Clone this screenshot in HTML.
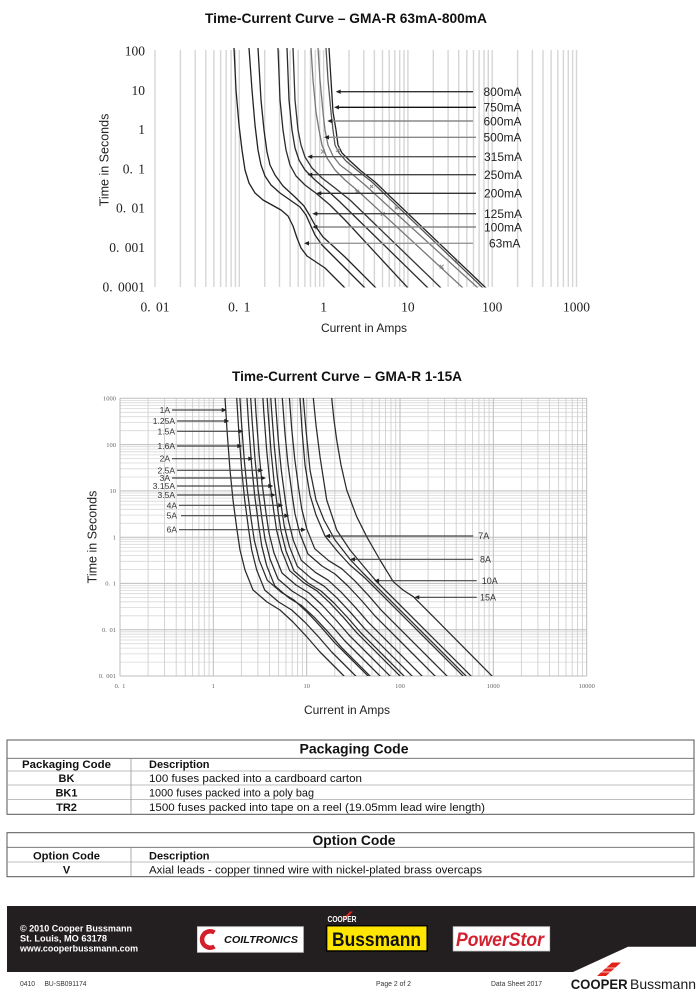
<!DOCTYPE html>
<html><head><meta charset="utf-8"><style>
html,body{margin:0;padding:0;background:#fff;width:700px;height:999px;overflow:hidden}
svg{display:block}
</style></head><body>
<svg width="700" height="999" viewBox="0 0 700 999" xmlns="http://www.w3.org/2000/svg" font-family="'Liberation Sans', Arial, sans-serif">
<defs>
<clipPath id="c1"><rect x="155" y="48" width="422" height="239.5"/></clipPath>
<clipPath id="c2"><rect x="120" y="398" width="467" height="278"/></clipPath>
</defs>

<!-- ============ TOP CHART ============ -->
<text x="346" y="23" text-anchor="middle" font-size="14" font-weight="bold" fill="#111" textLength="282" lengthAdjust="spacingAndGlyphs">Time-Current Curve – GMA-R 63mA-800mA</text>

<path stroke="#d6d6d6" stroke-width="1.4" fill="none" d="M155 50V287M180.4 50V287M195.2 50V287M205.8 50V287M213.9 50V287M220.6 50V287M226.2 50V287M231.1 50V287M235.4 50V287M239.3 50V287M264.7 50V287M279.5 50V287M290.1 50V287M298.2 50V287M304.9 50V287M310.5 50V287M315.4 50V287M319.7 50V287M323.6 50V287M349 50V287M363.8 50V287M374.4 50V287M382.5 50V287M389.2 50V287M394.8 50V287M399.7 50V287M404 50V287M407.9 50V287M433.3 50V287M448.1 50V287M458.7 50V287M466.8 50V287M473.5 50V287M479.1 50V287M484 50V287M488.3 50V287M492.2 50V287M517.6 50V287M532.4 50V287M543 50V287M551.1 50V287M557.8 50V287M563.4 50V287M568.3 50V287M572.6 50V287M576.5 50V287"/>

<g font-family="'Liberation Serif', 'Noto Serif CJK SC', serif" font-size="13.5" fill="#222" text-anchor="end" word-spacing="2">
<text x="145" y="55.5">100</text>
<text x="145" y="94.8">10</text>
<text x="145" y="134.1">1</text>
<text x="145" y="173.4">0. 1</text>
<text x="145" y="212.7">0. 01</text>
<text x="145" y="252">0. 001</text>
<text x="145" y="291.3">0. 0001</text>
</g>
<g font-family="'Liberation Serif', 'Noto Serif CJK SC', serif" font-size="13.5" fill="#222" text-anchor="middle" word-spacing="2">
<text x="155" y="311.5">0. 01</text>
<text x="239.3" y="311.5">0. 1</text>
<text x="323.6" y="311.5">1</text>
<text x="407.9" y="311.5">10</text>
<text x="492.2" y="311.5">100</text>
<text x="576.5" y="311.5">1000</text>
</g>
<text transform="translate(108.5,160) rotate(-90)" text-anchor="middle" font-size="12.5" fill="#222">Time in Seconds</text>
<text x="364" y="332" text-anchor="middle" font-size="12" fill="#222">Current in Amps</text>

<g clip-path="url(#c1)" fill="none" stroke-width="1.3" stroke-linejoin="round">
<polyline stroke="#222" points="234,48 236,90 239,125 242,150 245,170 249,183 255,193 263,200 272,205 281,210 288,216 293,226 297,238 301,248 307,256 316,262 325,268 345,288"/>
<polyline stroke="#222" points="249,48 252,90 255,125 258,150 261,165 265,176 271,185 280,193 290,200 300,207 306,215 310,224 315,235 322,245 331,254 343,266 365,288"/>
<polyline stroke="#222" points="258,48 261,100 264,130 267,152 270,165 275,175 283,186 295,197 304,206 310,216 316,227 323,237 333,246 345,257 376,288"/>
<polyline stroke="#2a2a2a" points="278,48 280,100 283,130 286,150 290,165 296,176 305,185 317,194 330,205 345,220 408,288"/>
<polyline stroke="#2a2a2a" points="287,48 289,100 292,130 295,148 299,160 305,170 315,180 328,191 340,202 428,288"/>
<polyline stroke="#333" points="293,48 295,100 298,130 301,145 305,157 312,168 322,178 335,188 350,200 441,288"/>
<polyline stroke="#777" points="311,48 313,80 316,112 319,130 322,145 327,158 335,170 345,180 358,191 463,288"/>
<polyline stroke="#777" points="318,48 320,80 323,112 325,130 328,145 333,156 340,165 352,174 365,185 478,288"/>
<polyline stroke="#555" points="326,48 328,80 331,112 333,130 335,145 339,153 346,161 358,171 372,182 483,288"/>
<polyline stroke="#222" points="329,48 331,80 333,112 336,130 338,145 342,153 349,160 361,171 375,182 486,288"/>
</g>
<g stroke="#888" stroke-width="1" fill="none">
<path d="M321 149.5l4 4M325 149.5l-4 4M336 148l4 4M340 148l-4 4M355 189.7l4 4M359 189.7l-4 4M380.7 212l4 4M384.7 212l-4 4M439.7 264.7l4 4M443.7 264.7l-4 4M370 185l3 3M373 185l-3 3M395 206.5l3 3M398 206.5l-3 3M455 260l3 3M458 260l-3 3"/>
</g>

<!-- arrows top -->
<g stroke-width="1.4">
<line x1="339" y1="91.7" x2="473" y2="91.7" stroke="#333"/>
<line x1="337" y1="107.3" x2="476" y2="107.3" stroke="#111"/>
<line x1="330" y1="121" x2="473" y2="121" stroke="#888"/>
<line x1="327" y1="137.3" x2="476" y2="137.3" stroke="#888"/>
<line x1="310" y1="156.7" x2="476" y2="156.7" stroke="#555"/>
<line x1="310" y1="174.7" x2="476" y2="174.7" stroke="#444"/>
<line x1="319" y1="193.3" x2="476" y2="193.3" stroke="#333"/>
<line x1="315" y1="213.7" x2="476" y2="213.7" stroke="#444"/>
<line x1="315" y1="227" x2="476" y2="227" stroke="#888"/>
<line x1="307" y1="243.3" x2="473" y2="243.3" stroke="#999"/>
</g>
<g fill="#222">
<polygon points="335.7,91.7 340.7,89.5 340.7,93.9"/>
<polygon points="334,107.3 339,105.1 339,109.5"/>
<polygon points="327.3,121 332.3,118.8 332.3,123.2"/>
<polygon points="324,137.3 329,135.1 329,139.5"/>
<polygon points="307.3,156.7 312.3,154.5 312.3,158.9"/>
<polygon points="307.3,174.7 312.3,172.5 312.3,176.9"/>
<polygon points="316.3,193.3 321.3,191.1 321.3,195.5"/>
<polygon points="312.3,213.7 317.3,211.5 317.3,215.9"/>
<polygon points="312.3,227 317.3,224.8 317.3,229.2"/>
<polygon points="304,243.3 309,241.1 309,245.5"/>
</g>
<g font-size="12" fill="#222">
<text x="483.5" y="96">800mA</text>
<text x="483.5" y="111.6">750mA</text>
<text x="483.5" y="125.3">600mA</text>
<text x="483.5" y="141.6">500mA</text>
<text x="484" y="161">315mA</text>
<text x="484" y="179">250mA</text>
<text x="484" y="197.6">200mA</text>
<text x="484" y="218">125mA</text>
<text x="484" y="231.3">100mA</text>
<text x="489" y="247.6">63mA</text>
</g>

<!-- ============ BOTTOM CHART ============ -->
<text x="347" y="381" text-anchor="middle" font-size="14" font-weight="bold" fill="#111" textLength="230" lengthAdjust="spacingAndGlyphs">Time-Current Curve – GMA-R 1-15A</text>

<path stroke="#d8d8d8" stroke-width="0.8" fill="none" d="M120 662.1H586.7M120 653.9H586.7M120 648.1H586.7M120 643.7H586.7M120 640H586.7M120 636.9H586.7M120 634.2H586.7M120 631.8H586.7M120 615.8H586.7M120 607.6H586.7M120 601.8H586.7M120 597.4H586.7M120 593.7H586.7M120 590.6H586.7M120 587.9H586.7M120 585.5H586.7M120 569.5H586.7M120 561.3H586.7M120 555.5H586.7M120 551.1H586.7M120 547.4H586.7M120 544.3H586.7M120 541.6H586.7M120 539.2H586.7M120 523.3H586.7M120 515.1H586.7M120 509.3H586.7M120 504.9H586.7M120 501.2H586.7M120 498.1H586.7M120 495.4H586.7M120 493H586.7M120 477H586.7M120 468.8H586.7M120 463H586.7M120 458.6H586.7M120 454.9H586.7M120 451.8H586.7M120 449.1H586.7M120 446.7H586.7M120 430.7H586.7M120 422.5H586.7M120 416.7H586.7M120 412.3H586.7M120 408.6H586.7M120 405.5H586.7M120 402.8H586.7M120 400.4H586.7"/>
<path stroke="#d0d0d0" stroke-width="0.9" fill="none" d="M148.1 398.3V676M164.5 398.3V676M176.2 398.3V676M185.2 398.3V676M192.6 398.3V676M198.9 398.3V676M204.3 398.3V676M209.1 398.3V676M241.4 398.3V676M257.9 398.3V676M269.5 398.3V676M278.6 398.3V676M286 398.3V676M292.2 398.3V676M297.6 398.3V676M302.4 398.3V676M334.8 398.3V676M351.2 398.3V676M362.9 398.3V676M371.9 398.3V676M379.3 398.3V676M385.5 398.3V676M391 398.3V676M395.7 398.3V676M428.1 398.3V676M444.5 398.3V676M456.2 398.3V676M465.2 398.3V676M472.6 398.3V676M478.9 398.3V676M484.3 398.3V676M489.1 398.3V676M521.4 398.3V676M537.9 398.3V676M549.5 398.3V676M558.6 398.3V676M566 398.3V676M572.2 398.3V676M577.6 398.3V676M582.4 398.3V676"/>
<path stroke="#bdbdbd" stroke-width="1" fill="none" d="M120 398.3V676M213.3 398.3V676M306.7 398.3V676M400 398.3V676M493.3 398.3V676M586.7 398.3V676M120 676H586.7M120 629.7H586.7M120 583.4H586.7M120 537.2H586.7M120 490.9H586.7M120 444.6H586.7M120 398.3H586.7"/>

<g font-family="'Liberation Serif', 'Noto Serif CJK SC', serif" font-size="6.5" fill="#666" text-anchor="end" word-spacing="1">
<text x="116" y="400.5">1000</text>
<text x="116" y="446.8">100</text>
<text x="116" y="493.1">10</text>
<text x="116" y="539.4">1</text>
<text x="116" y="585.6">0. 1</text>
<text x="116" y="631.9">0. 01</text>
<text x="116" y="678.2">0. 001</text>
</g>
<g font-family="'Liberation Serif', 'Noto Serif CJK SC', serif" font-size="6.5" fill="#666" text-anchor="middle" word-spacing="1">
<text x="120" y="688">0. 1</text>
<text x="213.3" y="688">1</text>
<text x="306.7" y="688">10</text>
<text x="400" y="688">100</text>
<text x="493.3" y="688">1000</text>
<text x="586.7" y="688">10000</text>
</g>
<text transform="translate(96.5,537) rotate(-90)" text-anchor="middle" font-size="12.5" fill="#222">Time in Seconds</text>
<text x="347" y="714" text-anchor="middle" font-size="12" fill="#222">Current in Amps</text>

<g clip-path="url(#c2)" fill="none" stroke="#2b2b2b" stroke-width="1.25" stroke-linejoin="round">
<polyline transform="translate(0,0)" points="225,330 225,398 227,430 230,470 233,500 237,530 240,550 245,570 253,590 267,602 280,610 293,622 307,637 320,652 342,674 420,752"/>
<polyline transform="translate(11.7,0)" points="225,330 225,398 227,430 230,470 233,500 237,530 240,550 245,570 253,590 267,602 280,610 293,622 307,637 320,652 342,674 420,752"/>
<polyline transform="translate(14.3,-9.7)" points="225,330 225,398 227,430 230,470 233,500 237,530 240,550 245,570 253,590 267,602 280,610 293,622 307,637 320,652 342,674 420,752"/>
<polyline transform="translate(21.7,-4.3)" points="225,330 225,398 227,430 230,470 233,500 237,530 240,550 245,570 253,590 267,602 280,610 293,622 307,637 320,652 342,674 420,752"/>
<polyline transform="translate(25,-11)" points="225,330 225,398 227,430 230,470 233,500 237,530 240,550 245,570 253,590 267,602 280,610 293,622 307,637 320,652 342,674 420,752"/>
<polyline transform="translate(29,-17)" points="225,330 225,398 227,430 230,470 233,500 237,530 240,550 245,570 253,590 267,602 280,610 293,622 307,637 320,652 342,674 420,752"/>
<polyline transform="translate(36.7,-19.3)" points="225,330 225,398 227,430 230,470 233,500 237,530 240,550 245,570 253,590 267,602 280,610 293,622 307,637 320,652 342,674 420,752"/>
<polyline transform="translate(41,-19)" points="225,330 225,398 227,430 230,470 233,500 237,530 240,550 245,570 253,590 267,602 280,610 293,622 307,637 320,652 342,674 420,752"/>
<polyline transform="translate(44.3,-23.7)" points="225,330 225,398 227,430 230,470 233,500 237,530 240,550 245,570 253,590 267,602 280,610 293,622 307,637 320,652 342,674 420,752"/>
<polyline transform="translate(48.3,-29.7)" points="225,330 225,398 227,430 230,470 233,500 237,530 240,550 245,570 253,590 267,602 280,610 293,622 307,637 320,652 342,674 420,752"/>
<polyline transform="translate(55,-36)" points="225,330 225,398 227,430 230,470 233,500 237,530 240,550 245,570 253,590 267,602 280,610 293,622 307,637 320,652 342,674 420,752"/>
<polyline transform="translate(61.7,-41.3)" points="225,330 225,398 227,430 230,470 233,500 237,530 240,550 245,570 253,590 267,602 280,610 293,622 307,637 320,652 342,674 420,752"/>
<polyline points="300,398 302,430 305,465 310,495 316,515 325,536 338,552 350,565 365,578 466,679"/>
<polyline points="303.3,398 306,430 310,470 316,500 324,520 335,540 350,559.3 362,572 468,678"/>
<polyline points="313.3,398 316,425 320,456.7 326.7,500 336.7,530 350,550 366.7,570 376.7,581.7 390,595 473,678"/>
<polyline points="331.7,398 334,420 336.7,440 341,465 346.7,490 356.7,516.7 366.7,536.7 380,560 393.3,581.7 403,590 413.3,596.7 433.3,616.7 494,678"/>
</g>

<!-- left labels bottom -->
<g stroke="#444" stroke-width="1.2">
<line x1="172" y1="410" x2="223" y2="410"/>
<line x1="177" y1="421" x2="226" y2="421"/>
<line x1="177" y1="431.3" x2="240" y2="431.3"/>
<line x1="177" y1="446" x2="239" y2="446"/>
<line x1="172" y1="458.7" x2="250" y2="458.7"/>
<line x1="177" y1="470.3" x2="260" y2="470.3"/>
<line x1="172" y1="478" x2="263" y2="478"/>
<line x1="177" y1="486" x2="270" y2="486"/>
<line x1="177" y1="495" x2="272" y2="495"/>
<line x1="179" y1="505.3" x2="280" y2="505.3"/>
<line x1="181" y1="515.7" x2="286" y2="515.7"/>
<line x1="179" y1="529.7" x2="303" y2="529.7"/>
<line x1="328" y1="536" x2="473.3" y2="536"/>
<line x1="353" y1="559.3" x2="473.3" y2="559.3"/>
<line x1="377" y1="580.7" x2="476.7" y2="580.7"/>
<line x1="417" y1="597.3" x2="476.7" y2="597.3"/>
</g>
<g fill="#222">
<polygon points="226.7,410 221.7,407.8 221.7,412.2"/>
<polygon points="229.3,421 224.3,418.8 224.3,423.2"/>
<polygon points="243.3,431.3 238.3,429.1 238.3,433.5"/>
<polygon points="242.3,446 237.3,443.8 237.3,448.2"/>
<polygon points="253.3,458.7 248.3,456.5 248.3,460.9"/>
<polygon points="263.3,470.3 258.3,468.1 258.3,472.5"/>
<polygon points="266,478 261,475.8 261,480.2"/>
<polygon points="273.3,486 268.3,483.8 268.3,488.2"/>
<polygon points="275.7,495 270.7,492.8 270.7,497.2"/>
<polygon points="283.3,505.3 278.3,503.1 278.3,507.5"/>
<polygon points="289.3,515.7 284.3,513.5 284.3,517.9"/>
<polygon points="306,529.7 301,527.5 301,531.9"/>
<polygon points="325,536 330,533.8 330,538.2"/>
<polygon points="350,559.3 355,557.1 355,561.5"/>
<polygon points="374,580.7 379,578.5 379,582.9"/>
<polygon points="414.3,597.3 419.3,595.1 419.3,599.5"/>
</g>
<g font-size="8.5" fill="#333" text-anchor="end">
<text x="170" y="413">1A</text>
<text x="175" y="424">1.25A</text>
<text x="175" y="434.3">1.5A</text>
<text x="175" y="449">1.6A</text>
<text x="170" y="461.7">2A</text>
<text x="175" y="473.3">2.5A</text>
<text x="170" y="481">3A</text>
<text x="175" y="489">3.15A</text>
<text x="175" y="498">3.5A</text>
<text x="177" y="508.3">4A</text>
<text x="177" y="518.7">5A</text>
<text x="177" y="532.7">6A</text>
</g>
<g font-size="9" fill="#333">
<text x="478.3" y="539.2">7A</text>
<text x="480" y="562.5">8A</text>
<text x="481.7" y="583.9">10A</text>
<text x="480" y="600.5">15A</text>
</g>

<!-- ============ PACKAGING TABLE ============ -->
<rect x="7" y="740" width="687" height="74.3" fill="none" stroke="#555" stroke-width="1"/>
<line x1="7" y1="758.3" x2="694" y2="758.3" stroke="#666" stroke-width="0.9"/>
<g stroke="#aaa" stroke-width="0.7">
<line x1="7" y1="771" x2="694" y2="771"/>
<line x1="7" y1="785" x2="694" y2="785"/>
<line x1="7" y1="799.5" x2="694" y2="799.5"/>
<line x1="131" y1="758.3" x2="131" y2="814.3" stroke="#888"/>
</g>
<text x="354" y="753.5" text-anchor="middle" font-size="13.5" font-weight="bold" fill="#111" textLength="109" lengthAdjust="spacingAndGlyphs">Packaging Code</text>
<g font-size="11" fill="#111">
<text x="66.5" y="768" text-anchor="middle" font-weight="bold" textLength="89" lengthAdjust="spacingAndGlyphs">Packaging Code</text>
<text x="149" y="768" font-weight="bold">Description</text>
<text x="66.5" y="782" text-anchor="middle" font-weight="bold">BK</text>
<text x="149" y="782" textLength="213" lengthAdjust="spacingAndGlyphs">100 fuses packed into a cardboard carton</text>
<text x="66.5" y="796.5" text-anchor="middle" font-weight="bold">BK1</text>
<text x="149" y="796.5" textLength="165" lengthAdjust="spacingAndGlyphs">1000 fuses packed into a poly bag</text>
<text x="66.5" y="811" text-anchor="middle" font-weight="bold">TR2</text>
<text x="149" y="811" textLength="336" lengthAdjust="spacingAndGlyphs">1500 fuses packed into tape on a reel (19.05mm lead wire length)</text>
</g>

<!-- ============ OPTION TABLE ============ -->
<rect x="7" y="832.7" width="687" height="44" fill="none" stroke="#555" stroke-width="1"/>
<line x1="7" y1="847.3" x2="694" y2="847.3" stroke="#666" stroke-width="0.9"/>
<line x1="7" y1="862" x2="694" y2="862" stroke="#aaa" stroke-width="0.7"/>
<line x1="131" y1="847.3" x2="131" y2="876.7" stroke="#888" stroke-width="0.7"/>
<text x="354" y="845" text-anchor="middle" font-size="13.5" font-weight="bold" fill="#111" textLength="83" lengthAdjust="spacingAndGlyphs">Option Code</text>
<g font-size="11" fill="#111">
<text x="66.5" y="859.3" text-anchor="middle" font-weight="bold" textLength="67" lengthAdjust="spacingAndGlyphs">Option Code</text>
<text x="149" y="859.3" font-weight="bold">Description</text>
<text x="66.5" y="873.3" text-anchor="middle" font-weight="bold">V</text>
<text x="149" y="873.3" textLength="333" lengthAdjust="spacingAndGlyphs">Axial leads - copper tinned wire with nickel-plated brass overcaps</text>
</g>

<!-- ============ FOOTER ============ -->
<polygon points="7,906 696,906 696,946.7 628,946.7 573,972 7,972" fill="#231f20"/>
<g fill="#fff" font-size="9" font-weight="bold">
<text x="20" y="931.5" textLength="112" lengthAdjust="spacingAndGlyphs">© 2010 Cooper Bussmann</text>
<text x="20" y="941.5" textLength="87" lengthAdjust="spacingAndGlyphs">St. Louis, MO 63178</text>
<text x="20" y="951.5" textLength="118" lengthAdjust="spacingAndGlyphs">www.cooperbussmann.com</text>
</g>
<!-- Coiltronics -->
<rect x="197.4" y="926.7" width="106" height="25.6" fill="#fff" stroke="#ccc" stroke-width="0.8"/>
<path d="M214.5 932.5 A8.2 8.2 0 1 0 214.5 946.5" fill="none" stroke="#d21f2b" stroke-width="4.5"/>
<text x="224" y="943" font-size="10.5" font-weight="bold" font-style="italic" fill="#111" textLength="74" lengthAdjust="spacingAndGlyphs">COILTRONICS</text>
<!-- Bussmann -->
<polygon points="343,918.5 350,911.5 353,911.5 346,918.5" fill="#e2231a"/>
<text x="327.5" y="922" font-size="8" font-weight="bold" fill="#fff" textLength="29" lengthAdjust="spacingAndGlyphs">COOPER</text>
<rect x="326.6" y="925.7" width="100.6" height="25.3" fill="#ffe600" stroke="#000" stroke-width="1.5"/>
<text x="332" y="946" font-size="19" font-weight="bold" fill="#111" textLength="89" lengthAdjust="spacingAndGlyphs">Bussmann</text>
<!-- PowerStor -->
<rect x="453.2" y="926.7" width="96.5" height="24.3" fill="#fff" stroke="#ccc" stroke-width="0.8"/>
<text x="456" y="946" font-size="19" font-weight="bold" font-style="italic" fill="#d2202f" textLength="88" lengthAdjust="spacingAndGlyphs">PowerStor</text>

<g font-size="7.5" fill="#333">
<text x="20" y="986" textLength="15" lengthAdjust="spacingAndGlyphs">0410</text>
<text x="44.5" y="986" textLength="42" lengthAdjust="spacingAndGlyphs">BU-SB091174</text>
<text x="376" y="986" textLength="35" lengthAdjust="spacingAndGlyphs">Page 2 of 2</text>
<text x="491" y="986" textLength="51" lengthAdjust="spacingAndGlyphs">Data Sheet 2017</text>
</g>
<polygon points="597,976 612,962.5 621,962.5 606,976" fill="#e2231a"/>
<g stroke="#fff" stroke-width="0.8"><line x1="600" y1="968" x2="620" y2="968"/><line x1="597" y1="972" x2="617" y2="972"/></g>
<text x="570.7" y="989" font-size="14" font-weight="bold" fill="#1a1a1a" textLength="57" lengthAdjust="spacingAndGlyphs">COOPER</text>
<text x="630" y="989" font-size="14" fill="#1a1a1a" textLength="66" lengthAdjust="spacingAndGlyphs">Bussmann</text>
</svg>
</body></html>
